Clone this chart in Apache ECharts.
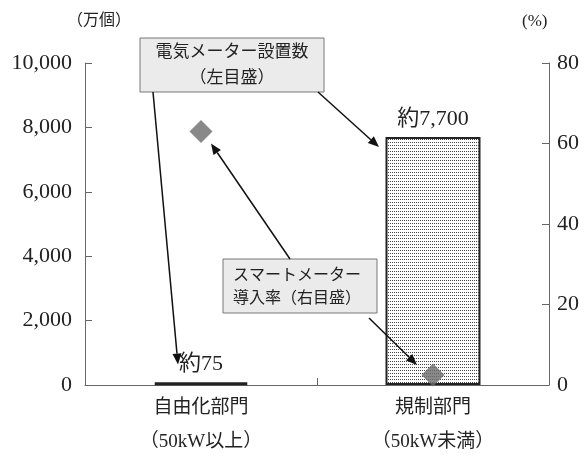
<!DOCTYPE html>
<html>
<head>
<meta charset="utf-8">
<script src="https://cdn.jsdelivr.net/npm/echarts@6/dist/echarts.min.js"></script>
<style>
  html, body { margin: 0; padding: 0; background: #fff; }
  #chart { width: 586px; height: 460px; }
</style>
</head>
<body>
<div id="chart"></div>
<script>
// Categories (supply segments)
const categories = ['自由化部門\n（50kW以上）', '規制部門\n（50kW未満）'];
// Number of installed electricity meters (万個, left axis)
const meterCounts = [75, 7700];
const meterLabels = ['約75', '約7,700'];
// Smart meter adoption rate (%, right axis)
const smartRates = [63, 2.5];
// Axis scales
const leftAxis = { min: 0, max: 10000, interval: 2000 };
const rightAxis = { min: 0, max: 80, interval: 20 };

const FONT = "'Liberation Serif', 'Noto Sans CJK JP', serif";
const INK = '#222';

// Fine dot pattern for the regulated-segment bar
const pat = document.createElement('canvas');
pat.width = 2; pat.height = 3;
const pg = pat.getContext('2d');
pg.fillStyle = '#fff'; pg.fillRect(0, 0, 2, 3);
pg.fillStyle = '#444'; pg.fillRect(0, 1, 1, 1);

const barStyles = [
  { color: '#222', borderColor: '#222', borderWidth: 3 },
  { color: { image: pat, repeat: 'repeat' }, borderColor: '#222', borderWidth: 2 }
];

const chart = echarts.init(document.getElementById('chart'), null, { renderer: 'canvas' });

chart.setOption({
  animation: false,
  backgroundColor: '#fff',
  textStyle: { fontFamily: FONT, color: INK },
  grid: { left: 85, right: 37, top: 63, bottom: 75 },
  xAxis: {
    type: 'category',
    data: categories,
    boundaryGap: true,
    axisLine: { lineStyle: { color: '#666', width: 1 } },
    axisTick: { show: true, inside: true, length: 7, lineStyle: { color: '#666' } },
    axisLabel: { fontFamily: FONT, fontSize: 19, color: INK, lineHeight: 34, margin: 6 }
  },
  yAxis: [
    {
      type: 'value', min: leftAxis.min, max: leftAxis.max, interval: leftAxis.interval,
      position: 'left',
      axisLine: { show: true, lineStyle: { color: '#666', width: 1 } },
      axisTick: { show: true, inside: true, length: 7, lineStyle: { color: '#666' } },
      splitLine: { show: false },
      axisLabel: {
        fontFamily: FONT, fontSize: 22, color: INK, margin: 13,
        formatter: v => v.toLocaleString('en-US')
      }
    },
    {
      type: 'value', min: rightAxis.min, max: rightAxis.max, interval: rightAxis.interval,
      position: 'right',
      axisLine: { show: true, lineStyle: { color: '#666', width: 1 } },
      axisTick: { show: true, inside: true, length: 7, lineStyle: { color: '#666' } },
      splitLine: { show: false },
      axisLabel: { fontFamily: FONT, fontSize: 22, color: INK, margin: 8 }
    }
  ],
  series: [
    {
      name: '電気メーター設置数',
      type: 'bar',
      yAxisIndex: 0,
      barWidth: 95,
      data: meterCounts.map((v, i) => ({ value: v, itemStyle: barStyles[i] })),
      label: {
        show: true, position: 'top', distance: 7,
        fontFamily: FONT, fontSize: 22, color: INK,
        formatter: p => meterLabels[p.dataIndex]
      }
    },
    {
      name: 'スマートメーター導入率',
      type: 'scatter',
      yAxisIndex: 1,
      symbol: 'diamond',
      symbolSize: 23,
      itemStyle: { color: '#6b6b6b' },
      data: smartRates,
      z: 5
    }
  ]
});

// Arrow: shaft plus filled head ending at (x2, y2)
function arrow(x1, y1, x2, y2) {
  const dx = x2 - x1, dy = y2 - y1, L = Math.hypot(dx, dy);
  const ux = dx / L, uy = dy / L, hl = 11, hw = 4.5;
  const bx = x2 - ux * hl, by = y2 - uy * hl;
  return [
    { type: 'line', z: 20, shape: { x1, y1, x2: bx, y2: by }, style: { stroke: '#111', lineWidth: 1.5 } },
    { type: 'polygon', z: 20, shape: { points: [[x2, y2], [bx - uy * hw, by + ux * hw], [bx + uy * hw, by - ux * hw]] }, style: { fill: '#111' } }
  ];
}

const barTop = i => chart.convertToPixel({ xAxisIndex: 0, yAxisIndex: 0 }, [i, meterCounts[i]]);
const dot = i => chart.convertToPixel({ xAxisIndex: 0, yAxisIndex: 1 }, [i, smartRates[i]]);

const b0 = barTop(0), b1 = barTop(1), d0 = dot(0), d1 = dot(1);

const graphics = [
  // axis unit captions
  { type: 'text', left: 67, top: 13, style: { text: '（万個）', font: `16px ${FONT}`, fill: INK } },
  { type: 'text', left: 522, top: 13, style: { text: '(%)', font: `17px ${FONT}`, fill: INK } },
  // callout: meter count
  { type: 'rect', z: 15, shape: { x: 140, y: 38, width: 184, height: 54 }, style: { fill: '#ebebeb', stroke: '#777', lineWidth: 1 } },
  { type: 'text', z: 16, x: 232, y: 66, style: { text: '電気メーター設置数\n（左目盛）', font: `17px ${FONT}`, fill: INK, align: 'center', verticalAlign: 'middle', lineHeight: 26 } },
  // callout: smart meter rate
  { type: 'rect', z: 15, shape: { x: 223, y: 259, width: 154, height: 54 }, style: { fill: '#ebebeb', stroke: '#777', lineWidth: 1 } },
  { type: 'text', z: 16, x: 233, y: 287, style: { text: 'スマートメーター\n導入率（右目盛）', font: `16px ${FONT}`, fill: INK, align: 'left', verticalAlign: 'middle', lineHeight: 23 } }
];

graphics.push(...arrow(153, 92, b0[0] - 23, b0[1] - 18));
graphics.push(...arrow(318, 92, b1[0] - 54, b1[1] + 10));
graphics.push(...arrow(290, 259, d0[0] + 10, d0[1] + 12));
graphics.push(...arrow(369, 318, d1[0] - 16, d1[1] - 10));

chart.setOption({ graphic: graphics });
</script>
</body>
</html>
